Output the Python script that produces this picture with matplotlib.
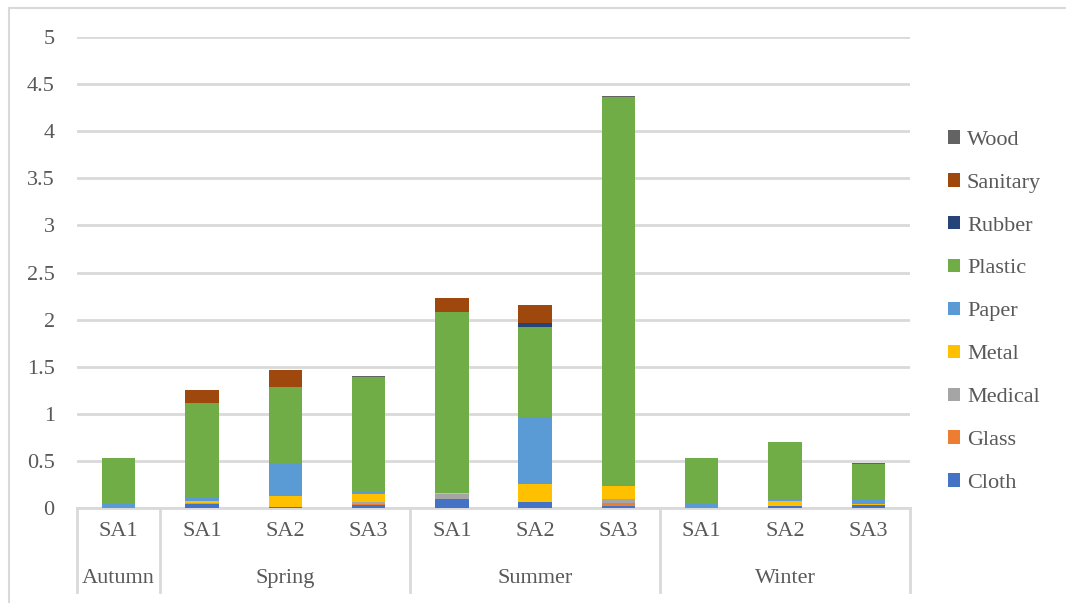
import matplotlib.pyplot as plt
import matplotlib.patches as mpatches
import numpy as np

plt.rcParams['font.family'] = ['Liberation Serif', 'DejaVu Serif']

# Data
seasons = ['Autumn', 'Spring', 'Summer', 'Winter']
season_sizes = [1, 3, 3, 3]
sites = ['SA1', 'SA1', 'SA2', 'SA3', 'SA1', 'SA2', 'SA3', 'SA1', 'SA2', 'SA3']

cloth = [0.00, 0.04, 0.01, 0.03, 0.10, 0.06, 0.02, 0.00, 0.02, 0.03]
glass = [0.00, 0.00, 0.00, 0.015, 0.00, 0.00, 0.03, 0.00, 0.00, 0.00]
medical = [0.00, 0.01, 0.00, 0.02, 0.05, 0.00, 0.05, 0.00, 0.00, 0.00]
metal = [0.00, 0.02, 0.12, 0.08, 0.01, 0.20, 0.13, 0.00, 0.05, 0.01]
paper = [0.05, 0.04, 0.35, 0.03, 0.00, 0.71, 0.01, 0.05, 0.02, 0.05]
plastic = [0.48, 1.00, 0.80, 1.22, 1.92, 0.95, 4.12, 0.48, 0.61, 0.38]
rubber = [0.00, 0.00, 0.00, 0.00, 0.00, 0.04, 0.00, 0.00, 0.00, 0.00]
sanitary = [0.00, 0.14, 0.18, 0.00, 0.15, 0.20, 0.00, 0.00, 0.00, 0.00]
wood = [0.00, 0.00, 0.00, 0.01, 0.00, 0.00, 0.01, 0.00, 0.00, 0.01]

series = [('Cloth', cloth, '#4472C4'), ('Glass', glass, '#ED7D31'),
          ('Medical', medical, '#A5A5A5'), ('Metal', metal, '#FFC000'),
          ('Paper', paper, '#5B9BD5'), ('Plastic', plastic, '#70AD47'),
          ('Rubber', rubber, '#264478'), ('Sanitary', sanitary, '#9E480E'),
          ('Wood', wood, '#636363')]

text_color = '#595959'
grid_color = '#d9d9d9'

fig = plt.figure(figsize=(10.66, 6.03), dpi=100)
ax = fig.add_axes([0.0722, 0.1575, 0.7815, 0.7811])

# outer chart border (top and left visible)
fig.patches.append(mpatches.Rectangle((9 / 1066, -0.05), 1.2, 1 - 8 / 603 + 0.05,
                                      transform=fig.transFigure, fill=False,
                                      edgecolor=grid_color, linewidth=1.5))

x = np.arange(len(sites))
bottom = np.zeros(len(sites))
handles = []
for name, vals, color in series:
    b = ax.bar(x, vals, 0.4, bottom=bottom, color=color, label=name, zorder=3)
    bottom += np.array(vals)
    handles.append(b)

ax.set_xlim(-0.5, len(sites) - 0.5)
ax.set_ylim(0, 5)
ax.set_yticks(np.arange(0, 5.01, 0.5))
ax.set_yticklabels(['0', '0.5', '1', '1.5', '2', '2.5', '3', '3.5', '4', '4.5', '5'])
ax.yaxis.grid(True, color=grid_color, linewidth=2, zorder=0)
ax.tick_params(axis='y', length=0, pad=16, labelsize=16, labelcolor=text_color)
ax.set_xticks([])
for s in ['top', 'right', 'left']:
    ax.spines[s].set_visible(False)
ax.spines['bottom'].set_color(grid_color)
ax.spines['bottom'].set_linewidth(2)

# multi-level category labels
for i, s in enumerate(sites):
    ax.text(i, -0.049, s, transform=ax.get_xaxis_transform(), ha='center', va='center',
            fontsize=16, color=text_color)
edges = np.concatenate([[0], np.cumsum(season_sizes)]) - 0.5
for j, season in enumerate(seasons):
    mid = (edges[j] + edges[j + 1]) / 2
    ax.text(mid, -0.149, season, transform=ax.get_xaxis_transform(), ha='center', va='center',
            fontsize=16, color=text_color)
for e in edges:
    ax.plot([e, e], [0, -0.178], transform=ax.get_xaxis_transform(), color=grid_color,
            linewidth=2, clip_on=False)

leg = ax.legend(handles[::-1], [h.get_label() for h in handles[::-1]],
                loc='upper left', bbox_to_anchor=(1.035, 0.821), frameon=False,
                fontsize=16, handlelength=0.55, handleheight=0.55, handletextpad=0.3,
                labelspacing=1.05, borderaxespad=0)
for t in leg.get_texts():
    t.set_color(text_color)

plt.savefig('out.png', dpi=100)
